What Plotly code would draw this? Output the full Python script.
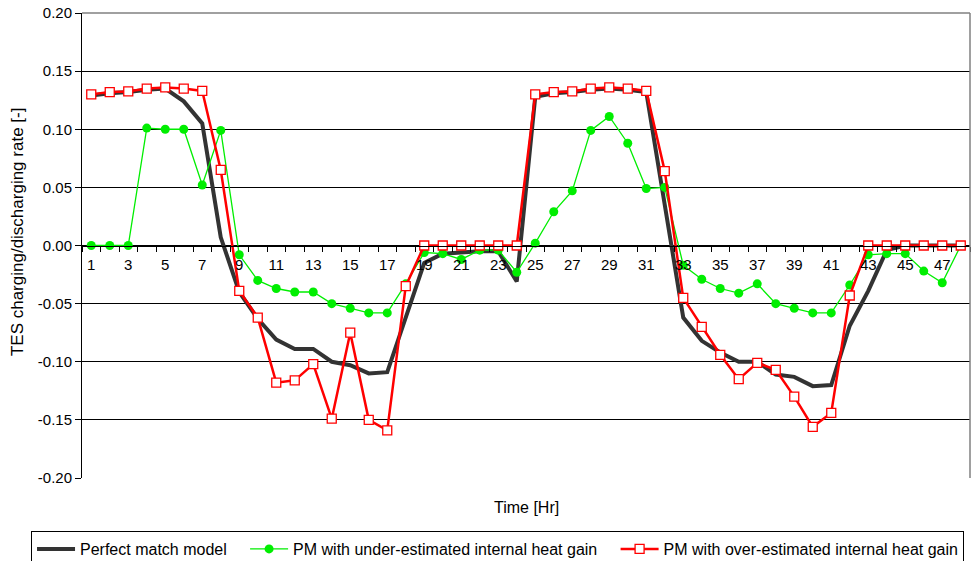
import plotly.graph_objects as go

# Hour index for the two-day simulation
hours = list(range(1, 49))

# TES charging (+) / discharging (-) rate for each model variant
perfect_match = [
    0.129, 0.131, 0.132, 0.134, 0.135, 0.124, 0.105, 0.007,
    -0.040, -0.063, -0.081, -0.089, -0.089, -0.100, -0.103, -0.110,
    -0.109, -0.062, -0.015, -0.007, -0.006, -0.005, -0.005, -0.031,
    0.128, 0.131, 0.132, 0.134, 0.135, 0.134, 0.132, 0.036,
    -0.062, -0.082, -0.092, -0.100, -0.100, -0.111, -0.113, -0.121,
    -0.120, -0.069, -0.039, -0.004, 0.000, 0.000, 0.000, 0.000,
]
under_estimated = [
    0.000, 0.000, 0.000, 0.101, 0.100, 0.100, 0.052, 0.099,
    -0.008, -0.030, -0.037, -0.040, -0.040, -0.050, -0.054, -0.058,
    -0.058, -0.033, -0.006, -0.007, -0.012, -0.004, -0.004, -0.023,
    0.002, 0.029, 0.047, 0.099, 0.111, 0.088, 0.049, 0.050,
    -0.017, -0.029, -0.037, -0.041, -0.033, -0.050, -0.054, -0.058,
    -0.058, -0.034, -0.008, -0.007, -0.007, -0.022, -0.032, 0.000,
]
over_estimated = [
    0.130, 0.132, 0.1325, 0.135, 0.136, 0.135, 0.133, 0.065,
    -0.039, -0.062, -0.118, -0.116, -0.102, -0.149, -0.075, -0.150,
    -0.159, -0.035, 0.000, 0.000, 0.000, 0.000, 0.000, 0.000,
    0.130, 0.132, 0.1325, 0.135, 0.136, 0.135, 0.133, 0.064,
    -0.045, -0.070, -0.094, -0.115, -0.101, -0.107, -0.130, -0.156,
    -0.144, -0.043, 0.000, 0.000, 0.000, 0.000, 0.000, 0.000,
]

series_names = [
    "Perfect match model",
    "PM with under-estimated internal heat gain",
    "PM with over-estimated internal heat gain",
]
x_tick_labels = [str(h) for h in hours if h % 2 == 1]
y_tick_values = [-0.20, -0.15, -0.10, -0.05, 0.00, 0.05, 0.10, 0.15, 0.20]

FONT = "Liberation Sans, Arial, sans-serif"
PAD = "\u00a0" * 3  # extra room after a legend entry

fig = go.Figure()
fig.add_trace(go.Scatter(
    x=hours, y=perfect_match, name=series_names[0] + PAD, mode="lines",
    line=dict(color="#333333", width=4),
))
fig.add_trace(go.Scatter(
    x=hours, y=under_estimated, name=series_names[1] + PAD, mode="lines+markers",
    line=dict(color="#00EE00", width=1.3),
    marker=dict(symbol="circle", size=9, color="#00EE00"),
))
fig.add_trace(go.Scatter(
    x=hours, y=over_estimated, name=series_names[2], mode="lines+markers",
    line=dict(color="#FF0000", width=2.5),
    marker=dict(symbol="square", size=9, color="white",
                line=dict(color="#FF0000", width=1.3)),
))

# Category x axis crossing the value axis at zero
fig.update_xaxes(
    range=[0.5, 48.5],
    anchor="free", position=0.5,
    showline=True, linecolor="black", linewidth=1,
    showgrid=False, zeroline=False,
    tickmode="array",
    tickvals=[int(t) for t in x_tick_labels],
    ticktext=x_tick_labels,
    ticks="",
    ticklabelstandoff=5,
    minor=dict(tickmode="array",
               tickvals=[h + 0.5 for h in [0] + hours],
               ticks="outside", ticklen=5, tickcolor="black", tickwidth=1,
               showgrid=False),
    tickfont=dict(family=FONT, size=15, color="black"),
)
fig.update_yaxes(
    range=[-0.2, 0.2],
    tickmode="array", tickvals=y_tick_values,
    ticktext=[f"{v:.2f}" for v in y_tick_values],
    showline=True, linecolor="black", linewidth=1,
    ticks="outside", ticklen=6, tickcolor="black",
    showgrid=True, gridcolor="black", gridwidth=1,
    zeroline=False,
    tickfont=dict(family=FONT, size=15, color="black"),
)

# Grey frame on the top and right of the plot area
fig.add_shape(type="line", xref="paper", yref="paper", x0=0, x1=1, y0=1, y1=1,
              line=dict(color="#808080", width=1.5), layer="above")
fig.add_shape(type="line", xref="paper", yref="paper", x0=1, x1=1, y0=0, y1=1,
              line=dict(color="#808080", width=1.5), layer="above")

fig.add_annotation(
    text="TES charging/discharging rate [-]", xref="paper", yref="paper",
    x=-0.0732, y=0.531, textangle=-90, showarrow=False,
    xanchor="center", yanchor="middle",
    font=dict(family=FONT, size=17, color="black"),
)
fig.add_annotation(
    text="Time [Hr]", xref="paper", yref="paper",
    x=0.5, y=-0.0624, showarrow=False,
    xanchor="center", yanchor="middle",
    font=dict(family=FONT, size=16, color="black"),
)

fig.update_layout(
    width=977, height=561,
    margin=dict(l=82, r=7, t=13, b=83, autoexpand=False),
    plot_bgcolor="white", paper_bgcolor="white",
    font=dict(family=FONT, size=16, color="black"),
    showlegend=True,
    legend=dict(
        orientation="h", x=-0.0574, y=-0.114,
        xanchor="left", yanchor="top",
        bordercolor="black", borderwidth=1,
        font=dict(family=FONT, size=16, color="black"),
        itemwidth=38, tracegroupgap=0,
    ),
)

fig.write_html("out.html")
